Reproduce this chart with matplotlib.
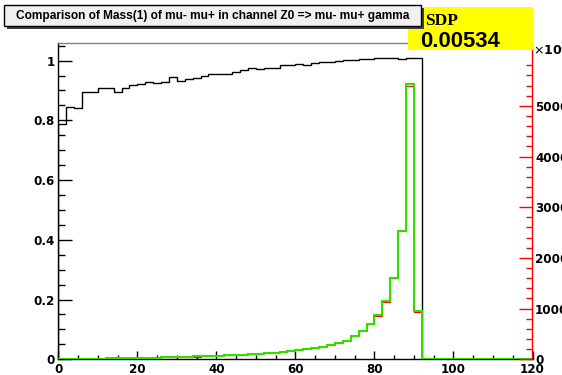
import matplotlib
matplotlib.use("Agg")
import matplotlib.pyplot as plt
from matplotlib.patches import Rectangle
import numpy as np

# ---- data ----
bin_edges = np.arange(0, 122, 2)  # 0..120, 60 bins of width 2

ratio = [0.788, 0.846, 0.841, 0.894, 0.894, 0.910, 0.909, 0.896, 0.910, 0.917,
         0.921, 0.927, 0.925, 0.928, 0.945, 0.932, 0.939, 0.943, 0.948, 0.956,
         0.956, 0.954, 0.963, 0.967, 0.975, 0.973, 0.975, 0.975, 0.987, 0.986,
         0.989, 0.986, 0.992, 0.995, 0.997, 1.000, 1.002, 1.003, 1.004, 1.007,
         1.010, 1.008, 1.008, 1.005, 1.008, 1.008, 0, 0, 0, 0,
         0, 0, 0, 0, 0, 0, 0, 0, 0, 0]

green_counts = [4, 6, 8, 10, 12, 14, 17, 20, 23, 26,
                29, 32, 35, 39, 43, 47, 51, 56, 61, 67,
                73, 79, 86, 94, 102, 111, 121, 133, 146, 163,
                184, 205, 225, 251, 284, 330, 369, 462, 568, 693,
                864, 1141, 1604, 2527, 5426, 943, 0, 0, 0, 0,
                0, 0, 0, 0, 0, 0, 0, 0, 0, 0]

red_counts = [3, 5, 7, 9, 11, 13, 16, 19, 22, 25,
              28, 31, 34, 38, 42, 46, 50, 55, 60, 66,
              72, 78, 85, 93, 101, 110, 120, 132, 145, 162,
              183, 204, 224, 250, 283, 329, 368, 461, 567, 692,
              863, 1140, 1603, 2526, 5398, 942, 0, 0, 0, 0,
              0, 0, 0, 0, 0, 0, 0, 0, 0, 0]

title_text = "Comparison of Mass(1) of mu- mu+ in channel Z0 => mu- mu+ gamma"
sdp_label = "SDP"
sdp_value = "0.00534"

left_ticks = [0, 0.2, 0.4, 0.6, 0.8, 1.0]
left_tick_labels = ["0", "0.2", "0.4", "0.6", "0.8", "1"]
right_ticks = [0, 1000, 2000, 3000, 4000, 5000]
right_tick_labels = ["0", "1000", "2000", "3000", "4000", "5000"]
x_ticks = [0, 20, 40, 60, 80, 100, 120]

# ---- figure ----
W, H = 562, 375
fig = plt.figure(figsize=(W / 100, H / 100), dpi=100)
fig.patch.set_facecolor("white")

def fx(x):
    return x / W

def fy(y):
    return 1 - y / H

L, R, T, B = 58.3, 532.5, 42.7, 359.3
ax = fig.add_axes([fx(L), fy(B), fx(R) - fx(L), fy(T) - fy(B)])
ax2 = ax.twinx()

tickfont = {"family": "DejaVu Sans", "weight": "bold", "size": 8.6}

# ratio histogram (left axis)
ax.stairs(ratio, bin_edges, color="black", linewidth=1.0)
ax.set_xlim(0, 120)
ax.set_ylim(0, 1.06)

# count histograms (right axis)
ax2.stairs(red_counts, bin_edges, color="#ff0000", linewidth=0.8)
ax2.stairs(green_counts, bin_edges, color="#33dd00", linewidth=1.5)
ax2.set_ylim(0, 6245)

# spines
for s in ["top", "right"]:
    ax.spines[s].set_visible(False)
ax.spines["left"].set_color("black")
ax.spines["bottom"].set_color("black")
ax2.spines["left"].set_visible(False)
ax2.spines["bottom"].set_visible(False)
ax2.spines["top"].set_color("#808080")
ax2.spines["right"].set_color("#ff0000")
for sp in list(ax.spines.values()) + list(ax2.spines.values()):
    sp.set_linewidth(1.0)

# left y ticks
ax.set_yticks(left_ticks)
ax.set_yticklabels(left_tick_labels, fontdict=tickfont)
ax.set_yticks(np.arange(0.05, 1.06, 0.05)[[i for i in range(21) if (i + 1) % 4 != 0]], minor=True)
ax.tick_params(axis="y", which="major", direction="in", length=10, width=1, pad=2.4, right=False)
ax.tick_params(axis="y", which="minor", direction="in", length=5, width=1, right=False)

# x ticks
ax.set_xticks(x_ticks)
ax.set_xticklabels([str(v) for v in x_ticks], fontdict=tickfont)
ax.set_xticks([v for v in range(5, 120, 5) if v % 20 != 0], minor=True)
ax.tick_params(axis="x", which="major", direction="in", length=6, width=1, pad=2.7, top=False)
ax.tick_params(axis="x", which="minor", direction="in", length=3.1, width=1, top=False)

# right y ticks
ax2.set_yticks(right_ticks)
ax2.set_yticklabels(right_tick_labels, fontdict=tickfont)
ax2.set_yticks([v for v in range(200, 6245, 200) if v % 1000 != 0], minor=True)
ax2.tick_params(axis="y", which="major", direction="in", length=9.6, width=1,
                color="#ff0000", pad=1.8)
ax2.tick_params(axis="y", which="minor", direction="in", length=4.3, width=1,
                color="#ff0000")

# ---- yellow SDP box ----
fig.patches.append(Rectangle((fx(408), fy(50)), fx(533) - fx(408), fy(7) - fy(50),
                             transform=fig.transFigure, facecolor="#ffff00",
                             edgecolor="none", zorder=5))
fig.text(fx(425), fy(25), sdp_label, family="Liberation Serif", weight="bold",
         fontsize=12.5, va="baseline", ha="left", zorder=6)
fig.text(fx(420), fy(46.7), sdp_value, family="Liberation Sans", weight="bold",
         fontsize=15.9, va="baseline", ha="left", zorder=6)

# ---- title box with shadow ----
fig.patches.append(Rectangle((fx(7.3), fy(29.3)), fx(424) - fx(7.3), fy(8.4) - fy(29.3),
                             transform=fig.transFigure, facecolor="#404040",
                             edgecolor="none", zorder=7))
fig.patches.append(Rectangle((fx(4.3), fy(26)), fx(421) - fx(4.3), fy(5.4) - fy(26),
                             transform=fig.transFigure, facecolor="#f0f0f0",
                             edgecolor="black", linewidth=1.0, zorder=8))
fig.text(fx(212.6), fy(15.8), title_text, family="Liberation Sans", weight="bold",
         fontsize=8.55, va="center", ha="center", zorder=9)

# ---- x10^3 multiplier ----
fig.text(fx(533), fy(55), r"$\times\mathbf{10^{3}}$", fontsize=9,
         va="baseline", ha="left", zorder=6)

fig.savefig("out.png", dpi=100)
